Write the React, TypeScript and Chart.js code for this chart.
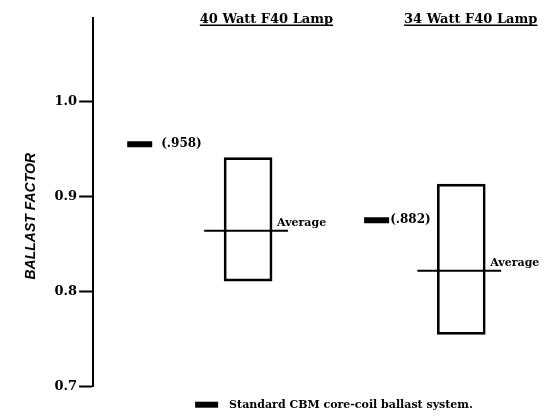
import { useEffect, useRef } from "react";
import { Chart, registerables } from "chart.js";

Chart.register(...registerables);

// ---------- data ----------
const lampTypes = ["40 Watt F40 Lamp", "34 Watt F40 Lamp"];
const rangeLow = [0.811, 0.755];
const rangeHigh = [0.941, 0.913];
const averages = [0.864, 0.822];
const cbmValues = [0.955, 0.875];
const cbmReported = [".958", ".882"];
const yTicks = [0.7, 0.8, 0.9, 1.0];
const yTitle = "BALLAST FACTOR";
const avgLabel = "Average";
const legendLabel = "Standard CBM core-coil ballast system.";

// ---------- layout (hidden 0–100 x axis) ----------
const X_MIN = 0;
const X_MAX = 100;
const Y_MIN = 0.7;
const Y_MAX = 1.088;
const boxX = [34.6, 82.2];
const markerX = [10.4, 63.3];
const titleX = [38.7, 84.3];
const avgFrom = -9.8;
const avgTo = 8.9;
const markerLabelGap = [9, 1];

const SERIF = "'DejaVu Serif', serif";

const annotate = {
  id: "annotate",
  afterDatasetsDraw(chart: any) {
    const { ctx, chartArea, scales } = chart;
    const x = scales.x;
    const y = scales.y;
    ctx.save();
    ctx.fillStyle = "#000";
    ctx.strokeStyle = "#000";

    // group titles (underlined)
    ctx.font = `bold 13px ${SERIF}`;
    ctx.textAlign = "center";
    ctx.textBaseline = "alphabetic";
    lampTypes.forEach((t, i) => {
      const cx = x.getPixelForValue(titleX[i]);
      const by = chartArea.top + 5;
      ctx.fillText(t, cx, by);
      const w = ctx.measureText(t).width;
      ctx.lineWidth = 1.5;
      ctx.beginPath();
      ctx.moveTo(cx - w / 2, by + 2.5);
      ctx.lineTo(cx + w / 2, by + 2.5);
      ctx.stroke();
    });

    // Average labels
    ctx.font = `bold 11px ${SERIF}`;
    ctx.textAlign = "left";
    ctx.textBaseline = "middle";
    averages.forEach((v, i) => {
      const px = x.getPixelForValue(boxX[i]) + 29;
      const py = y.getPixelForValue(v) - 8;
      ctx.fillText(avgLabel, px, py);
    });

    // CBM marker labels
    ctx.font = `bold 12px ${SERIF}`;
    cbmValues.forEach((v, i) => {
      const px = x.getPixelForValue(markerX[i]) + 12.5 + markerLabelGap[i];
      const py = y.getPixelForValue(v);
      ctx.fillText(`(${cbmReported[i]})`, px, py);
    });

    // y axis title
    ctx.save();
    ctx.translate(chartArea.left - 62, (chartArea.top + chartArea.bottom) / 2 + 14);
    ctx.rotate(-Math.PI / 2);
    ctx.textAlign = "center";
    ctx.textBaseline = "middle";
    ctx.font = "italic bold 14px 'Liberation Sans', sans-serif";
    ctx.fillText(yTitle, 0, 0);
    ctx.restore();

    // legend
    const lx = chartArea.left + 102;
    const ly = chartArea.bottom + 18;
    ctx.fillRect(lx, ly - 3, 23, 6);
    ctx.font = `bold 11px ${SERIF}`;
    ctx.textAlign = "left";
    ctx.textBaseline = "middle";
    ctx.fillText(legendLabel, lx + 34, ly);

    ctx.restore();
  },
};

export default function App() {
  const ref = useRef<HTMLCanvasElement | null>(null);

  useEffect(() => {
    if (!ref.current) return;
    const datasets: any[] = [
      {
        type: "bar",
        label: "Range",
        data: lampTypes.map((_, i) => ({ x: boxX[i], y: [rangeLow[i], rangeHigh[i]] })),
        backgroundColor: "rgba(0,0,0,0)",
        borderColor: "#000",
        borderWidth: 2,
        borderSkipped: false,
        barThickness: 48,
      },
      ...lampTypes.map((_, i) => ({
        type: "line",
        label: `Average ${i}`,
        data: [
          { x: boxX[i] + avgFrom, y: averages[i] },
          { x: boxX[i] + avgTo, y: averages[i] },
        ],
        borderColor: "#000",
        borderWidth: 2,
        pointRadius: 0,
        fill: false,
      })),
      {
        type: "line",
        label: legendLabel,
        data: lampTypes.map((_, i) => ({ x: markerX[i], y: cbmValues[i] })),
        showLine: false,
        pointStyle: "line",
        pointRadius: 12.5,
        pointBorderWidth: 6,
        borderColor: "#000",
        backgroundColor: "#000",
      },
    ];

    const chart = new Chart(ref.current, {
      type: "bar",
      data: { datasets },
      options: {
        animation: false,
        responsive: true,
        maintainAspectRatio: false,
        layout: { autoPadding: false, padding: { left: 44.5, top: 0, right: 0, bottom: 24.3 } },
        plugins: { legend: { display: false }, tooltip: { enabled: false } },
        events: [],
        scales: {
          x: {
            type: "linear",
            min: X_MIN,
            max: X_MAX,
            offset: false,
            display: false,
          },
          y: {
            type: "linear",
            min: Y_MIN,
            max: Y_MAX,
            afterBuildTicks: (scale: any) => {
              scale.ticks = yTicks.map((v) => ({ value: v }));
            },
            ticks: {
              color: "#000",
              padding: 2,
              font: { family: "DejaVu Serif", weight: "bold", size: 13 },
              callback: (v: any) => Number(v).toFixed(1),
            },
            grid: {
              drawOnChartArea: false,
              drawTicks: true,
              tickLength: 14,
              tickWidth: 2,
              tickColor: "#000",
            },
            border: { display: true, color: "#000", width: 2 },
          },
        },
      } as any,
      plugins: [annotate],
    });
    return () => chart.destroy();
  }, []);

  return (
    <div style={{ position: "relative", width: 533, height: 403 }}>
      <canvas ref={ref} style={{ display: "block" }} />
    </div>
  );
}
